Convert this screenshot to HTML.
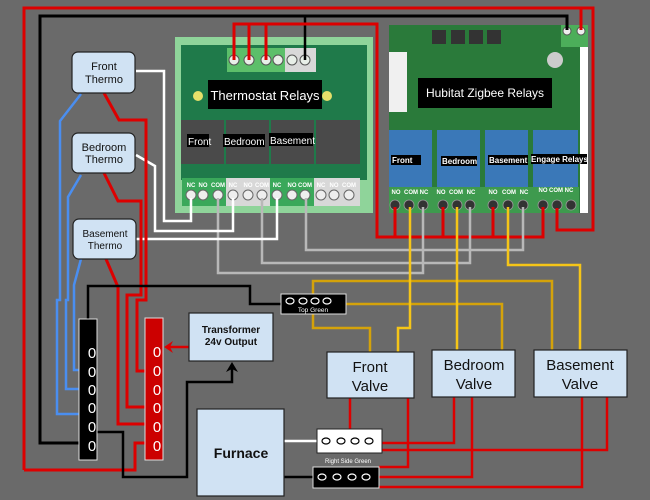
<!DOCTYPE html>
<html><head><meta charset="utf-8"><style>
html,body{margin:0;padding:0;background:#6a6a6a;}
svg{display:block;font-family:"Liberation Sans",sans-serif;}
</style></head><body>
<svg width="650" height="500" viewBox="0 0 650 500" xmlns="http://www.w3.org/2000/svg">
<rect width="650" height="500" fill="#6a6a6a"/>

<!-- Thermostat relay board -->
<rect x="175" y="37" width="198" height="176" fill="#8fd49a"/>
<rect x="181" y="45" width="186" height="135" fill="#1f7a4a"/>
<rect x="227" y="48" width="58" height="24" fill="#5cbf6a"/>
<rect x="285" y="48" width="31" height="24" fill="#d8d8d8"/>
<g fill="#e8efe8" stroke="#555" stroke-width="1">
<circle cx="234" cy="60" r="5"/><circle cx="249" cy="60" r="5"/><circle cx="266" cy="60" r="5"/><circle cx="278" cy="60" r="5"/><circle cx="292" cy="60" r="5"/><circle cx="305" cy="60" r="5"/>
</g>
<circle cx="198" cy="96" r="5" fill="#e6e06a"/><circle cx="327" cy="96" r="5" fill="#e6e06a"/>
<g fill="#4a4a4a"><rect x="181" y="120" width="43" height="44"/><rect x="226" y="120" width="43" height="44"/><rect x="271" y="120" width="43" height="44"/><rect x="316" y="120" width="44" height="44"/></g>
<rect x="182" y="178" width="44" height="28" fill="#3aa85a"/>
<rect x="226" y="178" width="44" height="28" fill="#d8d8d8"/>
<rect x="270" y="178" width="44" height="28" fill="#3aa85a"/>
<rect x="314" y="178" width="46" height="28" fill="#d8d8d8"/>
<g fill="#eee" stroke="#666" stroke-width="1">
<circle cx="191" cy="195" r="5"/><circle cx="203" cy="195" r="5"/><circle cx="218" cy="195" r="5"/>
<circle cx="233" cy="195" r="5"/><circle cx="248" cy="195" r="5"/><circle cx="262" cy="195" r="5"/>
<circle cx="277" cy="195" r="5"/><circle cx="292" cy="195" r="5"/><circle cx="305" cy="195" r="5"/>
<circle cx="321" cy="195" r="5"/><circle cx="334" cy="195" r="5"/><circle cx="349" cy="195" r="5"/>
</g>
<g font-size="6" font-weight="bold" fill="#fff" text-anchor="middle">
<text x="191" y="187">NC</text><text x="203" y="187">NO</text><text x="218" y="187">COM</text>
<text x="233" y="187">NC</text><text x="248" y="187">NO</text><text x="262" y="187">COM</text>
<text x="277" y="187">NC</text><text x="292" y="187">NO</text><text x="305" y="187">COM</text>
<text x="321" y="187">NC</text><text x="334" y="187">NO</text><text x="349" y="187">COM</text>
</g>
<rect x="208" y="80" width="114" height="29" fill="#000"/>
<text x="265" y="100" font-size="13" fill="#fff" text-anchor="middle">Thermostat Relays</text>
<g font-size="10" fill="#fff"><rect x="187" y="134" width="22" height="13" fill="#000"/><text x="188" y="145">Front</text>
<rect x="223" y="134" width="42" height="13" fill="#000"/><text x="224" y="145">Bedroom</text>
<rect x="269" y="133" width="44" height="13" fill="#000"/><text x="270" y="144">Basement</text></g>

<!-- Hubitat board -->
<rect x="389" y="25" width="199" height="188" fill="#2a7a3a"/>
<rect x="580" y="40" width="8" height="173" fill="#fff"/>
<rect x="389" y="52" width="18" height="60" fill="#f0f0f0"/>
<g fill="#333"><rect x="432" y="30" width="14" height="14"/><rect x="451" y="30" width="14" height="14"/><rect x="469" y="30" width="14" height="14"/><rect x="487" y="30" width="14" height="14"/></g>
<circle cx="555" cy="60" r="8" fill="#ccc"/>
<rect x="561" y="25" width="27" height="22" fill="#4cae5a"/>
<g fill="#eee" stroke="#555"><circle cx="567" cy="31" r="4"/><circle cx="581" cy="31" r="4"/></g>
<g fill="#3a78b8"><rect x="389" y="130" width="43" height="57"/><rect x="437" y="130" width="43" height="57"/><rect x="485" y="130" width="43" height="57"/><rect x="533" y="130" width="45" height="57"/></g>
<rect x="389" y="187" width="190" height="26" fill="#3e9a4e"/>
<g fill="#333" stroke="#999" stroke-width="0.8">
<circle cx="395" cy="205" r="5"/><circle cx="409" cy="205" r="5"/><circle cx="423" cy="205" r="5"/>
<circle cx="443" cy="205" r="5"/><circle cx="457" cy="205" r="5"/><circle cx="470" cy="205" r="5"/>
<circle cx="493" cy="205" r="5"/><circle cx="508" cy="205" r="5"/><circle cx="523" cy="205" r="5"/>
<circle cx="543" cy="205" r="5"/><circle cx="557" cy="205" r="5"/><circle cx="571" cy="205" r="5"/>
</g>
<g font-size="6" font-weight="bold" fill="#fff" text-anchor="middle">
<text x="396" y="194">NO</text><text x="411" y="194">COM</text><text x="424" y="194">NC</text>
<text x="441" y="194">NO</text><text x="456" y="194">COM</text><text x="471" y="194">NC</text>
<text x="493" y="194">NO</text><text x="509" y="194">COM</text><text x="524" y="194">NC</text>
<text x="543" y="192">NO</text><text x="556" y="192">COM</text><text x="569" y="192">NC</text>
</g>
<rect x="418" y="78" width="134" height="30" fill="#000"/>
<text x="485" y="97" font-size="12" fill="#fff" text-anchor="middle">Hubitat Zigbee Relays</text>
<g font-size="8" font-weight="bold" fill="#fff">
<rect x="391" y="155" width="30" height="10" fill="#000"/><text x="392" y="163">Front</text>
<rect x="441" y="156" width="36" height="10" fill="#000"/><text x="442" y="164">Bedroom</text>
<rect x="488" y="155" width="40" height="10" fill="#000"/><text x="489" y="163">Basement</text>
<rect x="531" y="154" width="56" height="10" fill="#000"/><text x="531" y="162">Engage Relays</text>
</g>

<g fill="none" stroke-linejoin="miter">
<!-- outer red -->
<polyline points="24,470 24,8 593,8 593,230 557,230 557,208" stroke="#d00" stroke-width="3"/>
<polyline points="24,470 135,470 135,443 145,443" stroke="#d00" stroke-width="3"/>
<line x1="581" y1="8" x2="581" y2="30" stroke="#d00" stroke-width="3"/>
<!-- outer black -->
<polyline points="80,443 40,443 40,16 567,16 567,30" stroke="#000" stroke-width="3"/>
<line x1="305" y1="16" x2="305" y2="60" stroke="#000" stroke-width="2.5"/>
<!-- thermostat relay top red -->
<polyline points="234,60 234,24 377,24 377,237 543,237 543,207" stroke="#d00" stroke-width="3"/>
<line x1="249" y1="24" x2="249" y2="60" stroke="#d00" stroke-width="3"/>
<line x1="266" y1="24" x2="266" y2="60" stroke="#d00" stroke-width="3"/>
<line x1="395" y1="237" x2="395" y2="207" stroke="#d00" stroke-width="3"/>
<line x1="443" y1="237" x2="443" y2="207" stroke="#d00" stroke-width="3"/>
<line x1="493" y1="237" x2="493" y2="207" stroke="#d00" stroke-width="3"/>
<!-- gray -->
<polyline points="218,198 218,273 423,273 423,207" stroke="#b8b8b8" stroke-width="2.5"/>
<polyline points="262,198 262,263 470,263 470,207" stroke="#b8b8b8" stroke-width="2.5"/>
<polyline points="306,198 306,250 523,250 523,207" stroke="#b8b8b8" stroke-width="2.5"/>
<!-- white thermo -->
<polyline points="136,71 164,71 164,221 191,221 191,198" stroke="#fff" stroke-width="2.5"/>
<polyline points="136,155 155,166 155,231 233,231 233,198" stroke="#fff" stroke-width="2.5"/>
<polyline points="136,239 277,239 277,198" stroke="#fff" stroke-width="2.5"/>
<!-- blue -->
<polyline points="81,94 60,121 60,300 57,300 57,414 80,414" stroke="#4a8ef0" stroke-width="2.5"/>
<polyline points="81,175 68,197 68,300 66,300 66,389 80,389" stroke="#4a8ef0" stroke-width="2.5"/>
<polyline points="81,259 74,285 74,370 80,370" stroke="#4a8ef0" stroke-width="2.5"/>
<!-- red thermo -->
<polyline points="104,93 119,120 146,120 146,300 137,300 137,371 145,371" stroke="#d00" stroke-width="3"/>
<polyline points="104,173 118,201 141,201 141,295 127,295 127,407 145,407" stroke="#d00" stroke-width="3"/>
<polyline points="106,259 118,287 118,424 145,424" stroke="#d00" stroke-width="3"/>
<!-- black to top green -->
<polyline points="88,319 88,286 250,286 250,304 281,304" stroke="#000" stroke-width="2.5"/>
<!-- black arrow path -->
<polyline points="97,432 123,432 123,477 187,477 187,382 232,382 232,366" stroke="#000" stroke-width="2.5"/>
<!-- gold -->
<polyline points="370,352 370,328 313,328 313,281 552,281 552,350" stroke="#d4a20a" stroke-width="2.5"/>
<polyline points="346,304 502,304 502,350" stroke="#d4a20a" stroke-width="2.5"/>
<!-- yellow -->
<polyline points="398,352 398,328 410,328 410,207" stroke="#f5c518" stroke-width="2.5"/>
<line x1="457" y1="350" x2="457" y2="207" stroke="#f5c518" stroke-width="2.5"/>
<polyline points="580,350 580,265 508,265 508,207" stroke="#f5c518" stroke-width="2.5"/>
<!-- valve reds -->
<line x1="350" y1="398" x2="350" y2="429" stroke="#d00" stroke-width="2.5"/>
<polyline points="408,398 408,467 379,467" stroke="#d00" stroke-width="2.5"/>
<polyline points="454,397 454,443 382,443" stroke="#d00" stroke-width="2.5"/>
<polyline points="472,397 472,477 379,477" stroke="#d00" stroke-width="2.5"/>
<polyline points="607,397 607,450 382,450" stroke="#d00" stroke-width="2.5"/>
<polyline points="582,397 582,487 379,487" stroke="#d00" stroke-width="2.5"/>
<!-- furnace wires -->
<line x1="284" y1="441" x2="317" y2="441" stroke="#fff" stroke-width="2.5"/>
<line x1="284" y1="477" x2="313" y2="477" stroke="#000" stroke-width="2.5"/>
<!-- red arrow -->
<line x1="189" y1="347" x2="167" y2="347" stroke="#d00" stroke-width="2.5"/>
</g>
<polygon points="164,347 173,341 170,347 173,353" fill="#d00"/>
<polygon points="232,362 226,372 232,369 238,372" fill="#000"/>

<!-- thermo boxes -->
<g fill="#d0e2f3" stroke="#222" stroke-width="1.2">
<rect x="72" y="52" width="63" height="41" rx="6"/>
<rect x="72" y="133" width="63" height="40" rx="6"/>
<rect x="73" y="219" width="63" height="40" rx="6"/>
</g>
<g font-size="11" fill="#111" text-anchor="middle">
<text x="104" y="70">Front</text><text x="104" y="83">Thermo</text>
<text x="104" y="151">Bedroom</text><text x="104" y="163">Thermo</text>
<text x="105" y="237" font-size="10">Basement</text><text x="105" y="249" font-size="10">Thermo</text>
</g>

<!-- bars -->
<rect x="79" y="319" width="18" height="141" fill="#000" stroke="#ddd" stroke-width="1"/>
<rect x="145" y="318" width="18" height="142" fill="#c00" stroke="#ddd" stroke-width="1"/>
<g font-size="15" fill="#fff" text-anchor="middle">
<text x="92" y="358">0</text><text x="92" y="377">0</text><text x="92" y="395">0</text><text x="92" y="413">0</text><text x="92" y="432">0</text><text x="92" y="451">0</text>
<text x="157" y="357">0</text><text x="157" y="376">0</text><text x="157" y="395">0</text><text x="157" y="413">0</text><text x="157" y="432">0</text><text x="157" y="451">0</text>
</g>

<!-- transformer -->
<rect x="189" y="313" width="84" height="48" fill="#d0e2f3" stroke="#222" stroke-width="1.2"/>
<text x="231" y="333" font-size="10" font-weight="bold" text-anchor="middle" fill="#111">Transformer</text>
<text x="231" y="345" font-size="10" font-weight="bold" text-anchor="middle" fill="#111">24v Output</text>

<!-- furnace -->
<rect x="197" y="409" width="87" height="87" fill="#d0e2f3" stroke="#222" stroke-width="1.2"/>
<text x="241" y="458" font-size="14" font-weight="bold" text-anchor="middle" fill="#111">Furnace</text>

<!-- valves -->
<g fill="#d0e2f3" stroke="#222" stroke-width="1.2">
<rect x="327" y="352" width="87" height="46"/>
<rect x="432" y="350" width="83" height="47"/>
<rect x="534" y="350" width="93" height="47"/>
</g>
<g font-size="15" fill="#111" text-anchor="middle">
<text x="370" y="372">Front</text><text x="370" y="391">Valve</text>
<text x="474" y="370">Bedroom</text><text x="474" y="389">Valve</text>
<text x="580" y="370">Basement</text><text x="580" y="389">Valve</text>
</g>

<!-- connectors -->
<rect x="281" y="294" width="65" height="20" fill="#000" stroke="#ddd" stroke-width="1"/>
<g fill="none" stroke="#fff" stroke-width="1.2"><ellipse cx="290" cy="301" rx="4" ry="3"/><ellipse cx="303" cy="301" rx="4" ry="3"/><ellipse cx="315" cy="301" rx="4" ry="3"/><ellipse cx="327" cy="301" rx="4" ry="3"/></g>
<text x="313" y="312" font-size="6.5" fill="#fff" text-anchor="middle">Top Green</text>

<rect x="317" y="429" width="65" height="24" fill="#fff" stroke="#222" stroke-width="1"/>
<g fill="none" stroke="#000" stroke-width="1.2"><ellipse cx="326" cy="441" rx="4" ry="3"/><ellipse cx="341" cy="441" rx="4" ry="3"/><ellipse cx="355" cy="441" rx="4" ry="3"/><ellipse cx="369" cy="441" rx="4" ry="3"/></g>
<text x="348" y="463" font-size="6" fill="#fff" text-anchor="middle">Right Side Green</text>

<rect x="313" y="467" width="66" height="21" fill="#000" stroke="#ddd" stroke-width="1"/>
<g fill="none" stroke="#fff" stroke-width="1.2"><ellipse cx="322" cy="477" rx="4" ry="3"/><ellipse cx="337" cy="477" rx="4" ry="3"/><ellipse cx="352" cy="477" rx="4" ry="3"/><ellipse cx="366" cy="477" rx="4" ry="3"/></g>
</svg>
</body></html>
